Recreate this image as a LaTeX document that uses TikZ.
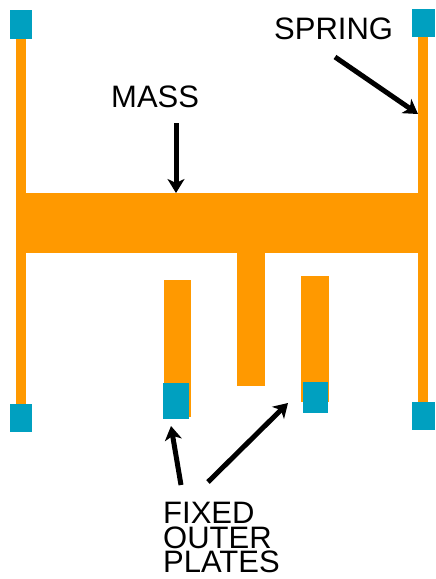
\documentclass[tikz,border=0pt]{standalone}
\usepackage{fontspec}
\setmainfont{Liberation Sans}
\usetikzlibrary{arrows.meta}
\definecolor{beam}{HTML}{FF9900}
\definecolor{anchorblue}{HTML}{00A0C0}
\tikzset{
    beampart/.style={fill=beam},
    anchorpad/.style={fill=anchorblue},
    callout/.style={line width=5pt,-{Stealth[length=14pt,width=17pt,inset=4pt]}},
    caption/.style={font=\fontsize{31}{24.5}\selectfont,inner sep=0pt}
}
\begin{document}
\begin{tikzpicture}[x=1pt,y=-1pt]
    \useasboundingbox (0,0) rectangle (436,579);

    % springs, mass and moving finger
    \fill[beampart] (16,39) rectangle (26,404);
    \fill[beampart] (418,37) rectangle (428,402);
    \fill[beampart] (16,193) rectangle (428,253);
    \fill[beampart] (237,253) rectangle (265,386);

    % fixed plates
    \fill[beampart] (164,280) rectangle (191,417);
    \fill[beampart] (301,276) rectangle (328.5,402);

    % anchors
    \fill[anchorpad] (10,10) rectangle (32,39);
    \fill[anchorpad] (10,404) rectangle (32,432);
    \fill[anchorpad] (412,9) rectangle (435,37);
    \fill[anchorpad] (412,402) rectangle (435,430);
    \fill[anchorpad] (163,383) rectangle (189,419);
    \fill[anchorpad] (303,382) rectangle (328,413);

    \node[caption,anchor=west] (masslabel) at (111,97) {MASS};
    \node[caption,anchor=west] (springlabel) at (274,29) {SPRING};
    \node[caption,anchor=north west,align=left] (plateslabel) at (163,502) {FIXED\\OUTER\\PLATES};

    \coordinate (massfrom) at (176,123);
    \coordinate (massto) at (176,193);
    \coordinate (springfrom) at (335,57);
    \coordinate (springto) at (418,114);
    \coordinate (leftfrom) at (181,485);
    \coordinate (leftto) at (171,426);
    \coordinate (rightfrom) at (208,482);
    \coordinate (rightto) at (288,403);

    \draw[callout] (massfrom) -- (massto);
    \draw[callout] (springfrom) -- (springto);
    \draw[callout] (leftfrom) -- (leftto);
    \draw[callout] (rightfrom) -- (rightto);
\end{tikzpicture}
\end{document}
